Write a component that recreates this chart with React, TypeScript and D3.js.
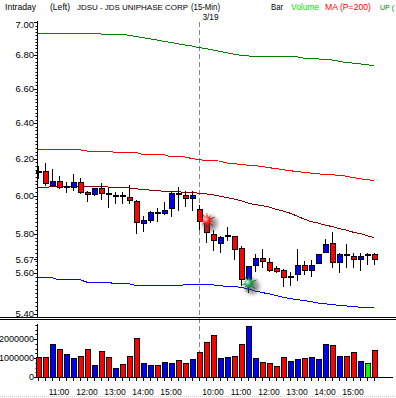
import React from 'react';
import * as d3 from 'd3';

// 15-min bars: 3/18 from 10:15, 3/19 from 09:30
const times = [
  '10:15','10:30','10:45','11:00','11:15','11:30','11:45','12:00','12:15','12:30','12:45','13:00','13:15','13:30','13:45','14:00','14:15','14:30','14:45','15:00','15:15','15:30','15:45',
  '09:30','09:45','10:00','10:15','10:30','10:45','11:00','11:15','11:30','11:45','12:00','12:15','12:30','12:45','13:00','13:15','13:30','13:45','14:00','14:15','14:30','14:45','15:00','15:15','15:30','15:45'
];
const dayStart = 23; // first bar of 3/19

const openP = [6.13,6.129,6.053,6.075,6.044,6.044,6.068,6.016,6.004,6.036,6.009,6.0,6.0,5.988,5.968,5.851,5.87,5.906,5.903,5.929,6.009,5.998,5.982,
  5.926,5.867,5.797,5.748,5.786,5.786,5.723,5.566,5.636,5.674,5.652,5.625,5.612,5.58,5.592,5.638,5.613,5.648,5.705,5.751,5.655,5.692,5.686,5.668,5.692,5.692];
const highP = [6.16,6.177,6.143,6.107,6.071,6.116,6.095,6.023,6.041,6.068,6.041,6.018,6.018,6.059,5.977,5.894,5.921,5.935,5.968,6.023,6.048,6.023,6.023,
  5.952,5.888,5.818,5.789,5.834,5.79,5.735,5.635,5.697,5.723,5.678,5.635,5.619,5.605,5.723,5.662,5.665,5.697,5.775,5.81,5.703,5.748,5.703,5.703,5.70,5.703];
const lowP = [6.09,6.05,6.048,6.036,6.012,6.023,6.009,5.964,6.0,5.977,5.935,5.956,5.956,5.956,5.797,5.81,5.854,5.861,5.898,5.885,5.917,5.941,5.921,
  5.82,5.754,5.713,5.703,5.76,5.665,5.537,5.5,5.605,5.625,5.608,5.599,5.532,5.537,5.563,5.592,5.58,5.645,5.705,5.625,5.599,5.628,5.628,5.612,5.64,5.643];
const closeP = [6.13,6.063,6.075,6.041,6.044,6.068,6.018,6.004,6.036,6.012,6.009,6.0,6.0,5.972,5.859,5.867,5.91,5.906,5.921,6.009,6.009,5.982,5.998,
  5.862,5.804,5.763,5.778,5.786,5.718,5.566,5.631,5.674,5.657,5.615,5.608,5.579,5.58,5.638,5.613,5.638,5.694,5.743,5.653,5.694,5.692,5.668,5.686,5.692,5.67];

const volume = [1050000,1050000,1730000,1470000,1200000,980000,1080000,1470000,620000,1360000,1030000,450000,680000,1080000,2040000,730000,620000,620000,780000,730000,870000,730000,940000,
  1310000,1840000,2200000,980000,1030000,1080000,1730000,2690000,980000,780000,730000,570000,1030000,830000,940000,980000,1030000,940000,1730000,1680000,1080000,1080000,1310000,830000,730000,1410000];
const volDir = ['R','R','B','R','B','B','R','R','B','R','R','B','R','R','R','B','B','R','B','B','R','R','B',
  'R','R','R','B','B','R','R','B','B','R','R','R','R','B','B','R','B','B','B','R','B','R','R','B','G','R'];

const upBand = [6.934,6.934,6.934,6.934,6.934,6.934,6.934,6.934,6.934,6.928,6.928,6.928,6.928,6.92,6.913,6.905,6.898,6.891,6.883,6.876,6.868,6.861,6.854,
  6.845,6.838,6.83,6.822,6.813,6.805,6.798,6.794,6.792,6.79,6.789,6.789,6.789,6.789,6.789,6.781,6.778,6.776,6.774,6.77,6.763,6.754,6.751,6.746,6.741,6.735];
const redBand = [6.254,6.254,6.254,6.249,6.249,6.249,6.249,6.243,6.243,6.243,6.243,6.235,6.235,6.235,6.235,6.223,6.223,6.223,6.223,6.21,6.21,6.21,6.201,
  6.195,6.19,6.19,6.187,6.176,6.173,6.168,6.165,6.162,6.157,6.151,6.146,6.14,6.135,6.129,6.126,6.121,6.117,6.115,6.113,6.108,6.105,6.097,6.091,6.086,6.081];
const ma200 = [6.041,6.043,6.048,6.048,6.048,6.048,6.048,6.048,6.048,6.048,6.046,6.044,6.043,6.041,6.036,6.034,6.029,6.027,6.023,6.021,6.02,6.018,6.016,
  6.013,6.009,6.004,5.997,5.989,5.982,5.973,5.96,5.952,5.947,5.939,5.928,5.918,5.907,5.892,5.876,5.863,5.855,5.845,5.837,5.827,5.819,5.808,5.801,5.79,5.78];
const lowBand = [5.577,5.577,5.577,5.567,5.567,5.567,5.567,5.555,5.555,5.555,5.555,5.547,5.547,5.547,5.539,5.539,5.539,5.539,5.539,5.539,5.539,5.542,5.542,
  5.542,5.542,5.542,5.537,5.535,5.534,5.529,5.522,5.512,5.504,5.498,5.49,5.481,5.474,5.47,5.465,5.46,5.453,5.449,5.446,5.441,5.439,5.436,5.433,5.431,5.43];

const priceTicks = [7.0, 6.8, 6.6, 6.4, 6.2, 6.0, 5.8, 5.6, 5.4];
const lastPrice = 5.67;
const volTicks = [0, 1000000, 2000000];

// signal markers: [bar index, price]
const sellSignal = [24, 5.868];
const buySignal = [30, 5.549];

const font = 'Liberation Sans, Arial, sans-serif';
const volColor: Record<string, string> = { R: '#ff0000', B: '#0000ff', G: '#00ff00' };

export default function App() {
  const n = closeP.length;
  const x = d3.scalePoint<number>().domain(d3.range(n)).range([38, 374]);
  const yP = d3.scaleLog().domain([5.4, 7]).range([314, 22.4]);
  const yV = d3.scaleLinear().domain([0, 2800000]).range([377, 324]);

  const line = (vals: number[]) =>
    d3.line<number>().x((_, i) => x(i)!).y(d => yP(d))(vals) || '';

  const minorP = d3.range(540, 701, 2).map(v => v / 100);
  const minorV = d3.range(0, 2750001, 250000);

  const spikes = [8.5, 6.5, 9.5, 6, 9, 7, 9.5, 6.5, 8.5, 6, 9];
  const star = d3.lineRadial<number>()
    .angle((_, i) => (i * Math.PI) / 11)
    .radius((_, i) => (i % 2 ? 3.2 : spikes[(i / 2) % 11]))
    .curve(d3.curveLinearClosed)(d3.range(22)) || '';

  const sepX = x(dayStart)! + 0.5;

  const header = [
    { t: 'Intraday', x: 5, w: 31, s: 9, c: '#000' },
    { t: '(Left)', x: 50, w: 20, s: 9, c: '#000' },
    { t: 'JDSU - JDS UNIPHASE CORP', x: 77, w: 111, s: 8, c: '#000' },
    { t: '(15-Min)', x: 191, w: 29, s: 8.5, c: '#000' },
    { t: 'Bar', x: 271, w: 12, s: 9, c: '#000' },
    { t: 'Volume', x: 291, w: 28, s: 8.5, c: '#00dd00' },
    { t: 'MA (P=200)', x: 325, w: 46, s: 8.5, c: '#ff0000' },
    { t: 'UP (', x: 380, w: 14, s: 8, c: '#008000' },
  ];

  const signals = [
    { s: sellSignal, id: 'gRed' },
    { s: buySignal, id: 'gGreen' },
  ];

  return (
    <svg width={396} height={398} style={{ position: 'absolute', left: 0, top: 0, background: '#fff' }} fontFamily={font}>
      <defs>
        <radialGradient id="gRed" cx="0.4" cy="0.4" r="0.6">
          <stop offset="0" stopColor="#ffe0e0" />
          <stop offset="0.35" stopColor="#ff2020" />
          <stop offset="1" stopColor="#900000" />
        </radialGradient>
        <radialGradient id="gGreen" cx="0.4" cy="0.4" r="0.6">
          <stop offset="0" stopColor="#d0ffe0" />
          <stop offset="0.35" stopColor="#20a050" />
          <stop offset="1" stopColor="#004020" />
        </radialGradient>
        <filter id="blur" x="-1" y="-1" width="3" height="3">
          <feGaussianBlur stdDeviation="2" />
        </filter>
      </defs>

      {/* header */}
      {header.map(h => (
        <text key={h.t} x={h.x} y={9.5} fontSize={h.s} fill={h.c} textLength={h.w} lengthAdjust="spacingAndGlyphs">{h.t}</text>
      ))}
      <text x={sepX + 3} y={20} fontSize={8.5} textLength={16} lengthAdjust="spacingAndGlyphs">3/19</text>

      {/* day separator */}
      <line x1={sepX} x2={sepX} y1={22} y2={377} stroke="#888" strokeDasharray="5,3" />

      {/* price axis */}
      <line x1={37.5} x2={37.5} y1={21} y2={317} stroke="#000" />
      {minorP.map(v => (
        <line key={v} x1={35.5} x2={37.5} y1={Math.round(yP(v)) + 0.5} y2={Math.round(yP(v)) + 0.5} stroke="#000" />
      ))}
      {priceTicks.concat([lastPrice]).map(v => (
        <g key={v}>
          <line x1={34} x2={37.5} y1={Math.round(yP(v)) + 0.5} y2={Math.round(yP(v)) + 0.5} stroke="#000" />
          <text x={34} y={Math.min(Math.max(yP(v), 25), 315)} dy="0.35em" fontSize={9.5} textAnchor="end">{v.toFixed(2)}</text>
        </g>
      ))}

      {/* bands and MA */}
      <g fill="none" strokeWidth={1} shapeRendering="crispEdges">
        <path d={line(upBand)} stroke="#008000" />
        <path d={line(redBand)} stroke="#ff0000" />
        <path d={line(ma200)} stroke="#800000" />
        <path d={line(lowBand)} stroke="#0000ff" />
      </g>

      {/* candles */}
      <g shapeRendering="crispEdges">
        {closeP.map((c, i) => {
          const o = openP[i];
          const cx = Math.round(x(i)!) + 0.5;
          const top = yP(Math.max(o, c));
          const bot = yP(Math.min(o, c));
          return (
            <g key={i}>
              <line x1={cx} x2={cx} y1={yP(highP[i])} y2={yP(lowP[i])} stroke="#000" />
              {o === c ? (
                <rect x={cx - 3} y={top - 1} width={6} height={2} fill="#000" />
              ) : (
                <rect x={cx - 2.5} y={top} width={5} height={Math.max(bot - top, 1)}
                  fill={c < o ? '#ff0000' : '#0000ff'} stroke="#000" />
              )}
            </g>
          );
        })}
      </g>

      {/* signal bursts */}
      {signals.map(({ s, id }) => (
        <g key={id} transform={`translate(${x(s[0] as number)! + 1},${yP(s[1] as number)})`}>
          <circle cx={3} cy={3} r={7.5} fill="#444" opacity={0.6} filter="url(#blur)" />
          <path d={star} fill={`url(#${id})`} />
        </g>
      ))}

      {/* panel divider */}
      <line x1={0} x2={396} y1={317.5} y2={317.5} stroke="#000" />
      <line x1={0} x2={396} y1={319.5} y2={319.5} stroke="#000" />

      {/* volume panel */}
      <line x1={37.5} x2={37.5} y1={324} y2={377} stroke="#000" />
      {minorV.map(v => (
        <line key={v} x1={35.5} x2={37.5} y1={Math.round(yV(v)) + 0.5} y2={Math.round(yV(v)) + 0.5} stroke="#000" />
      ))}
      {volTicks.map(v => (
        <g key={v}>
          <line x1={34} x2={37.5} y1={Math.round(yV(v)) + 0.5} y2={Math.round(yV(v)) + 0.5} stroke="#000" />
          <text x={34} y={yV(v)} dy="0.35em" fontSize={9} textAnchor="end">{v}</text>
        </g>
      ))}
      <g shapeRendering="crispEdges">
        {volume.map((v, i) => (
          <rect key={i} x={Math.round(x(i)!) - 2} y={yV(v)} width={5} height={yV(0) - yV(v)}
            fill={volColor[volDir[i]]} stroke="#000" />
        ))}
      </g>
      <line x1={37} x2={393} y1={377.5} y2={377.5} stroke="#000" />
      {times.map((t, i) => (
        <g key={i}>
          <line x1={Math.round(x(i)!) + 0.5} x2={Math.round(x(i)!) + 0.5} y1={377.5} y2={381} stroke="#000" />
          {t.endsWith(':00') && (
            <text x={x(i)} y={395} fontSize={8.5} textAnchor="middle">{t}</text>
          )}
        </g>
      ))}
      <line x1={0} x2={396} y1={396.5} y2={396.5} stroke="#ccc" strokeDasharray="1,1" />
    </svg>
  );
}
